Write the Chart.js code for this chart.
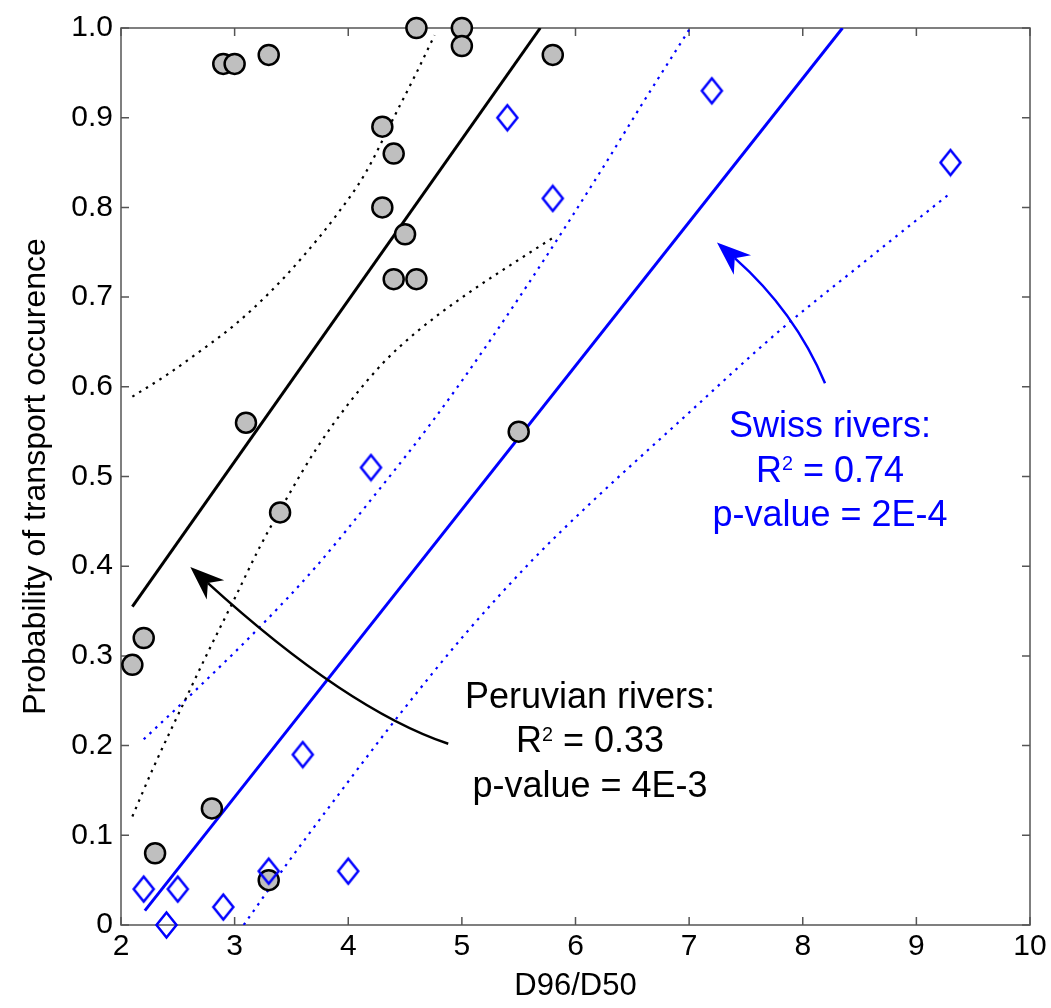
<!DOCTYPE html>
<html>
<head>
<meta charset="utf-8">
<title>Probability of transport occurence vs D96/D50</title>
<script src="https://cdn.jsdelivr.net/npm/chart.js@4.4.1/dist/chart.umd.min.js"></script>
<style>
  html, body { margin: 0; padding: 0; background: #fff; overflow: hidden; }
  #wrap { position: relative; width: 1051px; height: 1008px; }
</style>
</head>
<body>
<div id="wrap"><canvas id="chart"></canvas></div>
<script>
// Peruvian rivers (grey circles)
const peruX = [2.9, 3.0, 3.3, 4.6, 5.0, 5.0, 5.8, 4.3, 4.4, 4.3, 4.5, 4.4, 4.6, 3.1, 5.5, 3.4, 2.2, 2.1, 2.8, 2.3, 3.3];
const peruY = [0.96, 0.96, 0.97, 1.0, 1.0, 0.98, 0.97, 0.89, 0.86, 0.80, 0.77, 0.72, 0.72, 0.56, 0.55, 0.46, 0.32, 0.29, 0.13, 0.08, 0.05];

// Swiss rivers (blue diamonds)
const swissX = [5.4, 5.8, 4.2, 7.2, 9.3, 3.6, 2.2, 2.5, 2.4, 2.9, 3.3, 4.0];
const swissY = [0.90, 0.81, 0.51, 0.93, 0.85, 0.19, 0.04, 0.04, 0.0, 0.02, 0.06, 0.06];

// regression lines (end points)
const peruFitX = [2.1, 5.69];
const peruFitY = [0.355, 1.0];
const swissFitX = [2.21, 8.35];
const swissFitY = [0.016, 1.0];

// confidence bands
const peruUpperX = [2.1, 2.4, 2.7, 3.0, 3.3, 3.6, 3.9, 4.15, 4.4, 4.6, 4.76];
const peruUpperY = [0.589, 0.613, 0.640, 0.669, 0.704, 0.745, 0.792, 0.838, 0.900, 0.950, 0.992];
const peruLowerX = [2.1, 2.28, 2.58, 2.78, 3.0, 3.22, 3.46, 3.72, 4.02, 4.31, 4.6, 5.04, 5.48, 5.8];
const peruLowerY = [0.121, 0.174, 0.255, 0.308, 0.364, 0.421, 0.476, 0.531, 0.584, 0.627, 0.661, 0.703, 0.740, 0.766];
const swissUpperX = [2.2, 2.7, 3.22, 3.72, 4.25, 4.75, 5.25, 5.71, 6.22, 6.6, 7.0];
const swissUpperY = [0.207, 0.267, 0.332, 0.400, 0.482, 0.563, 0.652, 0.739, 0.840, 0.918, 0.998];
const swissLowerX = [3.08, 3.46, 3.87, 4.46, 5.04, 5.63, 6.13, 6.92, 7.8, 8.53, 9.3];
const swissLowerY = [0.0, 0.068, 0.138, 0.236, 0.326, 0.408, 0.470, 0.562, 0.663, 0.738, 0.816];

// axis ticks
const xTicks = [2, 3, 4, 5, 6, 7, 8, 9, 10];
const yTicks = [0, 0.1, 0.2, 0.3, 0.4, 0.5, 0.6, 0.7, 0.8, 0.9, 1.0];

const BLUE = '#0000ff';
const FONT = '"Liberation Sans", Arial, Helvetica, sans-serif';

function pts(xs, ys) {
    return xs.map((x, i) => ({ x: x, y: ys[i] }));
}

// open diamond, a bit taller than wide like the original marker
function diamond(w, h, color, lw) {
    const c = document.createElement('canvas');
    c.width = w; c.height = h;
    const g = c.getContext('2d');
    g.strokeStyle = color;
    g.lineWidth = lw;
    g.beginPath();
    g.moveTo(w / 2, 2.5);
    g.lineTo(w - 2.5, h / 2);
    g.lineTo(w / 2, h - 2.5);
    g.lineTo(2.5, h / 2);
    g.closePath();
    g.stroke();
    return c;
}

// annotation text + arrows, placed in data units
const notes = [
    {
        color: '#000',
        anchor: { x: 6.128, y: 0.242 },
        lines: [
            [{ t: 'Peruvian rivers:' }],
            [{ t: 'R' }, { t: '2', sup: true }, { t: ' = 0.33' }],
            [{ t: 'p-value = 4E-3' }]
        ],
        arrow: { from: { x: 4.88, y: 0.202 }, ctrl: { x: 3.99, y: 0.240 }, to: { x: 2.61, y: 0.399 } }
    },
    {
        color: BLUE,
        anchor: { x: 8.24, y: 0.544 },
        lines: [
            [{ t: 'Swiss rivers:' }],
            [{ t: 'R' }, { t: '2', sup: true }, { t: ' = 0.74' }],
            [{ t: 'p-value = 2E-4' }]
        ],
        arrow: { from: { x: 8.196, y: 0.604 }, ctrl: { x: 7.93, y: 0.684 }, to: { x: 7.245, y: 0.761 } }
    }
];

// box round the plot with inward ticks on all four sides
const framePlugin = {
    id: 'frame',
    beforeDatasetsDraw(chart) {
        const { ctx, chartArea: a, scales: { x, y } } = chart;
        ctx.save();
        ctx.strokeStyle = '#555';
        ctx.lineWidth = 1.5;
        ctx.strokeRect(a.left, a.top, a.right - a.left, a.bottom - a.top);
        ctx.beginPath();
        xTicks.forEach(v => {
            const px = x.getPixelForValue(v);
            ctx.moveTo(px, a.bottom); ctx.lineTo(px, a.bottom - 8);
            ctx.moveTo(px, a.top); ctx.lineTo(px, a.top + 8);
        });
        yTicks.forEach(v => {
            const py = y.getPixelForValue(v);
            ctx.moveTo(a.left, py); ctx.lineTo(a.left + 8, py);
            ctx.moveTo(a.right, py); ctx.lineTo(a.right - 8, py);
        });
        ctx.stroke();
        ctx.restore();
    }
};

const notePlugin = {
    id: 'notes',
    afterDatasetsDraw(chart) {
        const { ctx, scales: { x, y } } = chart;
        const size = 36;
        ctx.save();
        notes.forEach(n => {
            // curved arrow
            const p0 = { x: x.getPixelForValue(n.arrow.from.x), y: y.getPixelForValue(n.arrow.from.y) };
            const pc = { x: x.getPixelForValue(n.arrow.ctrl.x), y: y.getPixelForValue(n.arrow.ctrl.y) };
            const p2 = { x: x.getPixelForValue(n.arrow.to.x), y: y.getPixelForValue(n.arrow.to.y) };
            const ang = Math.atan2(p2.y - pc.y, p2.x - pc.x);
            const headLen = 34, headW = 13;
            const back = { x: p2.x - Math.cos(ang) * headLen * 0.7, y: p2.y - Math.sin(ang) * headLen * 0.7 };
            ctx.strokeStyle = n.color;
            ctx.fillStyle = n.color;
            ctx.lineWidth = 2.5;
            ctx.beginPath();
            ctx.moveTo(p0.x, p0.y);
            ctx.quadraticCurveTo(pc.x, pc.y, back.x, back.y);
            ctx.stroke();
            const bx = p2.x - Math.cos(ang) * headLen, by = p2.y - Math.sin(ang) * headLen;
            ctx.beginPath();
            ctx.moveTo(p2.x, p2.y);
            ctx.lineTo(bx + Math.sin(ang) * headW, by - Math.cos(ang) * headW);
            ctx.lineTo(back.x, back.y);
            ctx.lineTo(bx - Math.sin(ang) * headW, by + Math.cos(ang) * headW);
            ctx.closePath();
            ctx.fill();

            // centred text block with superscripts
            const cx = x.getPixelForValue(n.anchor.x);
            let base = y.getPixelForValue(n.anchor.y);
            ctx.textAlign = 'left';
            ctx.textBaseline = 'alphabetic';
            n.lines.forEach(parts => {
                const widths = parts.map(p => {
                    ctx.font = (p.sup ? size * 0.55 : size) + 'px ' + FONT;
                    return ctx.measureText(p.t).width;
                });
                const total = widths.reduce((s, w) => s + w, 0);
                let px = cx - total / 2;
                parts.forEach((p, i) => {
                    ctx.font = (p.sup ? size * 0.55 : size) + 'px ' + FONT;
                    ctx.fillText(p.t, px, p.sup ? base - size * 0.33 : base);
                    px += widths[i];
                });
                base += 44.5;
            });
        });
        ctx.restore();
    }
};

const lineBase = { showLine: true, pointRadius: 0, pointHoverRadius: 0, fill: false };
const dotted = { borderWidth: 2.2, borderDash: [2.5, 5.5], cubicInterpolationMode: 'monotone', order: 3 };

new Chart(document.getElementById('chart'), {
    type: 'scatter',
    data: {
        datasets: [
            {
                label: 'Swiss rivers',
                data: pts(swissX, swissY),
                pointStyle: diamond(25, 30, BLUE, 2.5),
                pointRadius: 12,
                clip: false,
                order: 0
            },
            {
                label: 'Peruvian rivers',
                data: pts(peruX, peruY),
                pointStyle: 'circle',
                pointRadius: 10,
                backgroundColor: '#bfbfbf',
                borderColor: '#000',
                borderWidth: 2.5,
                clip: false,
                order: 1
            },
            Object.assign({ label: 'Peruvian fit', data: pts(peruFitX, peruFitY), borderColor: '#000', borderWidth: 3, order: 2 }, lineBase),
            Object.assign({ label: 'Swiss fit', data: pts(swissFitX, swissFitY), borderColor: BLUE, borderWidth: 3, order: 2 }, lineBase),
            Object.assign({ label: 'Peruvian upper', data: pts(peruUpperX, peruUpperY), borderColor: '#000' }, dotted, lineBase),
            Object.assign({ label: 'Peruvian lower', data: pts(peruLowerX, peruLowerY), borderColor: '#000' }, dotted, lineBase),
            Object.assign({ label: 'Swiss upper', data: pts(swissUpperX, swissUpperY), borderColor: BLUE }, dotted, lineBase),
            Object.assign({ label: 'Swiss lower', data: pts(swissLowerX, swissLowerY), borderColor: BLUE }, dotted, lineBase)
        ]
    },
    options: {
        responsive: true,
        maintainAspectRatio: false,
        animation: false,
        events: [],
        layout: { padding: { top: 28, right: 21, left: 0, bottom: 0 } },
        plugins: {
            legend: { display: false },
            tooltip: { enabled: false }
        },
        scales: {
            x: {
                type: 'linear',
                min: 2,
                max: 10,
                afterFit: s => { s.height = 83; },
                afterBuildTicks: s => { s.ticks = xTicks.map(v => ({ value: v })); },
                grid: { display: false, drawTicks: false },
                border: { display: false },
                ticks: { color: '#000', padding: 4, font: { family: FONT, size: 30 } },
                title: { display: true, text: 'D96/D50', color: '#000', font: { family: FONT, size: 31 }, padding: { top: 0, bottom: 3 } }
            },
            y: {
                type: 'linear',
                min: 0,
                max: 1,
                afterFit: s => { s.width = 121; },
                afterBuildTicks: s => { s.ticks = yTicks.map(v => ({ value: v })); },
                grid: { display: false, drawTicks: false },
                border: { display: false },
                ticks: {
                    color: '#000',
                    padding: 8,
                    font: { family: FONT, size: 30 },
                    callback: v => v === 0 ? '0' : v.toFixed(1)
                },
                title: { display: true, text: 'Probability of transport occurence', color: '#000', font: { family: FONT, size: 32 }, padding: { top: 17, bottom: 0 } }
            }
        }
    },
    plugins: [framePlugin, notePlugin]
});
</script>
</body>
</html>
